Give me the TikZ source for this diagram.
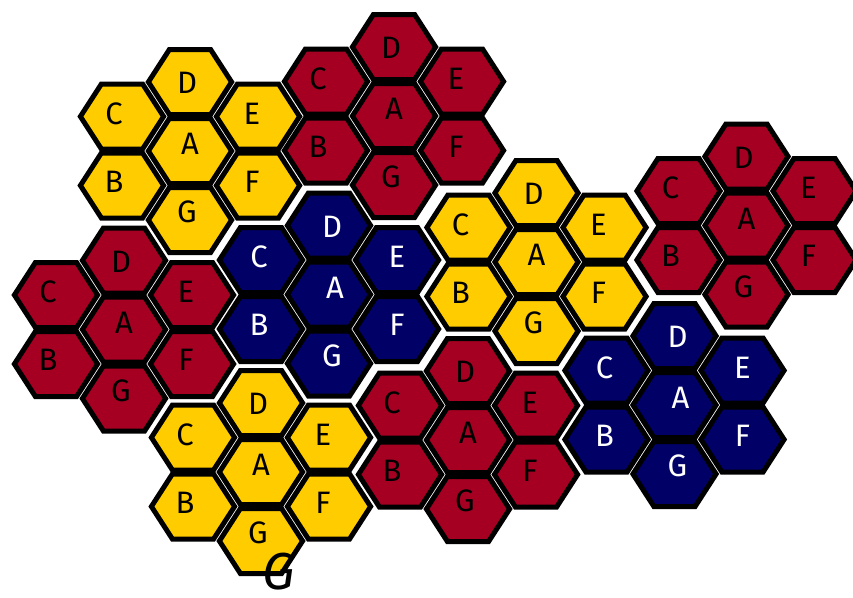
\documentclass[tikz,border=0pt]{standalone}
\usepackage{fontspec}
\setmainfont{Fira Sans}
\usepackage{tikz}
\usetikzlibrary{positioning, calc}

\definecolor{hexyellow}{RGB}{255,204,0}
\definecolor{hexred}{RGB}{165,0,33}
\definecolor{hexblue}{RGB}{0,0,102}

\tikzset{
    hexline/.style={draw=black, line width=5pt, line join=miter},
    hexlabel/.style={inner sep=0pt, font=\fontsize{31}{31}\selectfont},
    darktext/.style={text=black},
    lighttext/.style={text=white, xshift=6pt},
}

% one hexagon, centre (#1,#2), fill #3
\newcommand{\hexcell}[3]{%
    \filldraw[hexline, fill=#3, shift={(#1,#2)}]
        (-41.6,0) -- (-20.6,-32.5) -- (20.6,-32.5) -- (41.6,0)
        -- (20.6,32.5) -- (-20.6,32.5) -- cycle;
}

% seven hexagons round A: name #1, centre of A (#2,#3), fill #4, label style #5
\newcommand{\hexflower}[5]{%
    \begin{scope}[shift={(#2,#3)}]
        \hexcell{0}{-69}{#4}
        \hexcell{-68}{-34.5}{#4}
        \hexcell{68}{-34.5}{#4}
        \hexcell{0}{0}{#4}
        \hexcell{-68}{34.5}{#4}
        \hexcell{68}{34.5}{#4}
        \hexcell{0}{69}{#4}
        \node[hexlabel, #5] (#1D) at (-3,-68) {D};
        \node[hexlabel, #5] (#1C) at (-76,-37.5) {C};
        \node[hexlabel, #5] (#1E) at (62,-37.5) {E};
        \node[hexlabel, #5] (#1A) at (0,-7) {A};
        \node[hexlabel, #5] (#1B) at (-76,30.5) {B};
        \node[hexlabel, #5] (#1F) at (62,30.5) {F};
        \node[hexlabel, #5] (#1G) at (-3,61) {G};
    \end{scope}
}

\begin{document}
\begin{tikzpicture}[x=1pt, y=-1pt]

    % page frame, in pixels of the sheet (y runs down)
    \useasboundingbox (0,0) rectangle (853,597);

    % --- TOP ROW OF FLOWERS ---
    \hexflower{ya}{190}{151}{hexyellow}{darktext}
    \hexflower{ra}{394}{116}{hexred}{darktext}
    \hexflower{rd}{746.5}{225.5}{hexred}{darktext}

    % --- MIDDLE ROW ---
    \hexflower{rb}{124}{329.5}{hexred}{darktext}
    \hexflower{ba}{329}{294.5}{hexblue}{lighttext}
    \hexflower{yc}{536.5}{262}{hexyellow}{darktext}
    \hexflower{bb}{674.5}{405}{hexblue}{lighttext}

    % --- BOTTOM ROW ---
    \hexflower{yb}{261}{472}{hexyellow}{darktext}
    \hexflower{rc}{468}{440}{hexred}{darktext}

    % loose letter under the last yellow G
    \node[anchor=base, inner sep=0pt, font=\fontsize{52}{52}\selectfont\itshape] (looseG) at (279,589) {G};

\end{tikzpicture}
\end{document}
